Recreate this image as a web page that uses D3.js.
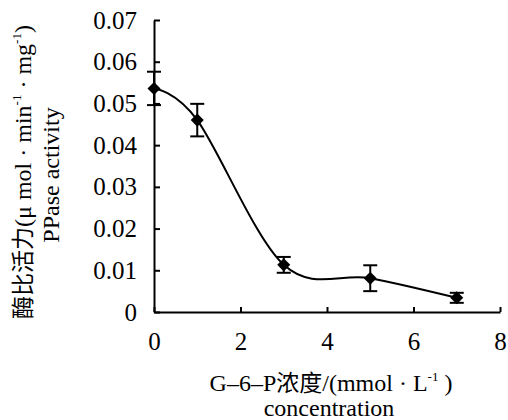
<!DOCTYPE html>
<html>
<head>
<meta charset="utf-8">
<script src="https://cdn.jsdelivr.net/npm/d3@7"></script>
<style>
    body { margin: 0; background: #fff; }
    svg { display: block; }
    .axis path, .axis line { stroke: #000; stroke-width: 2px; }
    .axis text { font-family: 'Liberation Serif', 'DejaVu Serif', serif; font-size: 25px; fill: #000; }
    .label { font-family: 'Liberation Serif', 'DejaVu Serif', serif; font-size: 24px; fill: #000; }
    .cjk { font-family: 'Noto Sans CJK SC', sans-serif; font-size: 23px; }
</style>
</head>
<body>
<svg></svg>
<script>
var screen = {width: 508, height: 420}
var margins = {top: 20, right: 8, bottom: 108, left: 154}

// data
var concentration = [0, 1, 3, 5, 7]
var activity = [0.0536, 0.0460, 0.0113, 0.0081, 0.0034]
var errors = [0.0040, 0.0039, 0.0019, 0.0031, 0.0012]
var xTicks = [0, 2, 4, 6, 8]
var yTicks = [0, 0.01, 0.02, 0.03, 0.04, 0.05, 0.06, 0.07]

var svg = d3.select("svg")
    .attr("width", screen.width)
    .attr("height", screen.height)

var width = screen.width - margins.left - margins.right
var height = screen.height - margins.top - margins.bottom

var xScale = d3.scaleLinear()
                .domain([0, 8])
                .range([0, width])

var yScale = d3.scaleLinear()
                .domain([0, 0.07])
                .range([height, 0])

var graph = svg.append("g")
    .attr("id", "graph")
    .attr("transform", "translate(" + margins.left + "," + margins.top + ")")

        //
        //AXES
        //
var xAxis = d3.axisBottom(xScale)
    .tickValues(xTicks)
    .tickFormat(d3.format("d"))
    .tickSizeInner(-5)
    .tickSizeOuter(0)
    .tickPadding(20)

var yAxis = d3.axisLeft(yScale)
    .tickValues(yTicks)
    .tickFormat(function(d) { return d == 0 ? "0" : d3.format(".2f")(d) })
    .tickSizeInner(-6)
    .tickSizeOuter(0)
    .tickPadding(17)

graph.append("g")
    .classed("axis", true)
    .attr("transform", "translate(0," + height + ")")
    .call(xAxis)

graph.append("g")
    .classed("axis", true)
    .call(yAxis)

// d3 puts font attrs on the axis group, drop them so the css wins
graph.selectAll(".axis").attr("font-family", null).attr("font-size", null)

        //
        //AXES
        //

var points = concentration.map(function(c, i) {
    return {x: c, y: activity[i], err: errors[i]}
})

// smoothed line
var line = d3.line()
    .x(function(d) { return xScale(d.x) })
    .y(function(d) { return yScale(d.y) })
    .curve(d3.curveCardinal.tension(0))

graph.append("path")
    .datum(points)
    .attr("d", line)
    .attr("fill", "none")
    .attr("stroke", "#000")
    .attr("stroke-width", 2)

// error bars
var capHalf = 7
var bars = graph.selectAll(".errbar")
    .data(points)
    .enter()
    .append("g")
    .classed("errbar", true)
    .attr("stroke", "#000")
    .attr("stroke-width", 2)

bars.append("line")
    .attr("x1", function(d) { return xScale(d.x) })
    .attr("x2", function(d) { return xScale(d.x) })
    .attr("y1", function(d) { return yScale(d.y + d.err) })
    .attr("y2", function(d) { return yScale(d.y - d.err) })

bars.append("line")
    .attr("x1", function(d) { return xScale(d.x) - capHalf })
    .attr("x2", function(d) { return xScale(d.x) + capHalf })
    .attr("y1", function(d) { return yScale(d.y + d.err) })
    .attr("y2", function(d) { return yScale(d.y + d.err) })

bars.append("line")
    .attr("x1", function(d) { return xScale(d.x) - capHalf })
    .attr("x2", function(d) { return xScale(d.x) + capHalf })
    .attr("y1", function(d) { return yScale(d.y - d.err) })
    .attr("y2", function(d) { return yScale(d.y - d.err) })

// diamond markers
graph.selectAll(".marker")
    .data(points)
    .enter()
    .append("path")
    .classed("marker", true)
    .attr("d", d3.symbol().type(d3.symbolSquare).size(85))
    .attr("transform", function(d) {
        return "translate(" + xScale(d.x) + "," + yScale(d.y) + ") rotate(45)"
    })
    .attr("fill", "#000")

// x label
var xLab1 = svg.append("text")
    .classed("label", true)
    .attr("x", 331)
    .attr("y", 391)
    .attr("text-anchor", "middle")
xLab1.append("tspan").text("G–6–P")
xLab1.append("tspan").classed("cjk", true).text("浓度")
xLab1.append("tspan").text("/(mmol · L")
xLab1.append("tspan").attr("font-size", "13px").attr("dy", -10).text("-1")
xLab1.append("tspan").attr("dy", 10).text(" )")

svg.append("text")
    .classed("label", true)
    .attr("x", 329)
    .attr("y", 416)
    .attr("font-size", "25px")
    .attr("text-anchor", "middle")
    .text("concentration")

// y label
var yLab1 = svg.append("text")
    .classed("label", true)
    .attr("transform", "translate(31,172) rotate(-90)")
    .attr("text-anchor", "middle")
yLab1.append("tspan").classed("cjk", true).text("酶比活力")
yLab1.append("tspan").text("(μ mol · min")
yLab1.append("tspan").attr("font-size", "13px").attr("dy", -10).text("-1")
yLab1.append("tspan").attr("dy", 10).text(" · mg")
yLab1.append("tspan").attr("font-size", "13px").attr("dy", -10).text("-1")
yLab1.append("tspan").attr("dy", 10).text(")")

svg.append("text")
    .classed("label", true)
    .attr("transform", "translate(59,175) rotate(-90)")
    .attr("text-anchor", "middle")
    .text("PPase activity")
</script>
</body>
</html>
